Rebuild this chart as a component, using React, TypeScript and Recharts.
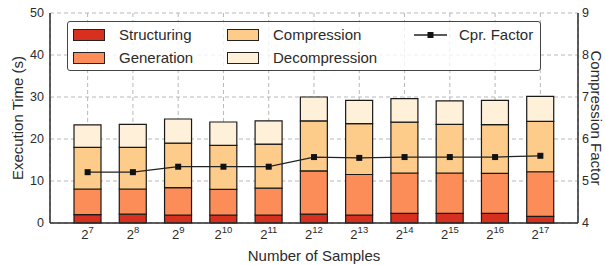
import { ComposedChart, Bar, Line, XAxis, YAxis, CartesianGrid, Legend } from "recharts"

const exponents = ["7", "8", "9", "10", "11", "12", "13", "14", "15", "16", "17"]
const structuring = [2.0, 2.1, 1.9, 1.9, 1.9, 2.1, 1.9, 2.3, 2.3, 2.3, 1.6]
const generation = [6.1, 6.0, 6.5, 6.1, 6.4, 10.3, 9.65, 9.6, 9.6, 9.5, 10.6]
const compression = [9.9, 9.9, 10.6, 10.5, 10.5, 11.9, 12.1, 12.1, 11.6, 11.6, 12.0]
const decompression = [5.35, 5.5, 5.76, 5.55, 5.5, 5.7, 5.55, 5.6, 5.6, 5.8, 5.95]
const cprFactor = [5.21, 5.21, 5.34, 5.34, 5.34, 5.57, 5.55, 5.57, 5.57, 5.57, 5.6]

const leftTicks = [0, 10, 20, 30, 40, 50]
const rightTicks = [4, 5, 6, 7, 8, 9]

const COLORS = {
  structuring: "#d7301f",
  generation: "#fc8d59",
  compression: "#fdcc8a",
  decompression: "#fef0d9",
}

const FONT = "'Liberation Sans', Arial, sans-serif"
const INK = "#2b2b2b"

const data = exponents.map((e, i) => ({
  exp: e,
  structuring: structuring[i],
  generation: generation[i],
  compression: compression[i],
  decompression: decompression[i],
  cpr: cprFactor[i],
}))

function PowerTick({ x, y, payload }: any) {
  return (
    <text x={x} y={y + 10} textAnchor="middle" fill={INK} fontFamily={FONT}>
      <tspan fontSize={13}>2</tspan>
      <tspan fontSize={9.5} dy={-6}>{payload.value}</tspan>
    </text>
  )
}

const barItems = [
  { key: "structuring", label: "Structuring", left: 5, top: 6 },
  { key: "generation", label: "Generation", left: 5, top: 29 },
  { key: "compression", label: "Compression", left: 159, top: 6 },
  { key: "decompression", label: "Decompression", left: 159, top: 29 },
]

function LegendBox() {
  return (
    <div
      style={{
        position: "relative",
        width: 474,
        height: 50,
        boxSizing: "border-box",
        border: "1px solid #444",
        borderRadius: 3,
        background: "rgba(255,255,255,0.8)",
        fontFamily: FONT,
        fontSize: 15,
        color: INK,
      }}
    >
      {barItems.map((it) => (
        <div key={it.key} style={{ position: "absolute", left: it.left, top: it.top, display: "flex", alignItems: "center", height: 13 }}>
          <div
            style={{
              width: 32,
              height: 12,
              boxSizing: "border-box",
              background: (COLORS as any)[it.key],
              border: "1px solid #222",
            }}
          />
          <span style={{ marginLeft: 14, lineHeight: "13px", whiteSpace: "nowrap" }}>{it.label}</span>
        </div>
      ))}
      <div style={{ position: "absolute", left: 346, top: 6, display: "flex", alignItems: "center", height: 13 }}>
        <svg width={33} height={12}>
          <line x1={0} y1={6} x2={33} y2={6} stroke="#222" strokeWidth={1.3} />
          <rect x={13.5} y={3} width={6} height={6} fill="#111" />
        </svg>
        <span style={{ marginLeft: 12, lineHeight: "13px", whiteSpace: "nowrap" }}>Cpr. Factor</span>
      </div>
    </div>
  )
}

function SquareDot({ cx, cy }: any) {
  if (cx == null || cy == null) return null
  return <rect x={cx - 3} y={cy - 3} width={6} height={6} fill="#111" />
}

export default function App() {
  return (
    <div style={{ position: "absolute", left: 0, top: 0, width: 605, height: 265, background: "#fff" }}>
      <ComposedChart
        width={605}
        height={265}
        data={data}
        margin={{ top: 13, right: 0, bottom: 0, left: 0 }}
        barCategoryGap={0}
      >
        <CartesianGrid yAxisId="left" stroke="#b0b0b0" strokeDasharray="4 3" strokeWidth={0.9} />
        <XAxis
          dataKey="exp"
          height={42}
          padding={{ left: 15, right: 15 }}
          tick={<PowerTick />}
          tickLine={false}
          tickSize={0}
          tickMargin={6}
          axisLine={{ stroke: INK, strokeWidth: 1.5 }}
          interval={0}
          label={{
            value: "Number of Samples",
            position: "insideBottom",
            offset: 4,
            fill: INK,
            fontSize: 15,
            fontFamily: FONT,
          }}
        />
        <XAxis
          xAxisId="top"
          orientation="top"
          dataKey="exp"
          height={0}
          tick={false}
          tickLine={false}
          axisLine={{ stroke: INK, strokeWidth: 1.5 }}
        />
        <YAxis
          yAxisId="left"
          width={50}
          domain={[0, 50]}
          ticks={leftTicks}
          tickLine={false}
          tickSize={0}
          tickMargin={6}
          axisLine={{ stroke: INK, strokeWidth: 1.5 }}
          tick={{ fill: INK, fontSize: 12.5, fontFamily: FONT }}
          label={{
            value: "Execution Time (s)",
            angle: -90,
            position: "center",
            dx: -7,
            fill: INK,
            fontSize: 15,
            fontFamily: FONT,
          }}
        />
        <YAxis
          yAxisId="right"
          orientation="right"
          width={27}
          domain={[4, 9]}
          ticks={rightTicks}
          tickLine={false}
          tickSize={0}
          tickMargin={4}
          axisLine={{ stroke: INK, strokeWidth: 1.5 }}
          tick={{ fill: INK, fontSize: 12.5, fontFamily: FONT }}
          label={{
            value: "Compression Factor",
            angle: 90,
            position: "center",
            dx: 5,
            fill: INK,
            fontSize: 15,
            fontFamily: FONT,
          }}
        />
        <Legend
          verticalAlign="middle"
          align="center"
          layout="horizontal"
          wrapperStyle={{ left: 67, top: 21, width: 474, height: 50 }}
          content={() => <LegendBox />}
        />
        {(["structuring", "generation", "compression", "decompression"] as const).map((k) => (
          <Bar
            key={k}
            yAxisId="left"
            dataKey={k}
            stackId="t"
            barSize={27}
            fill={COLORS[k]}
            stroke="#1a1a1a"
            strokeWidth={1.2}
            isAnimationActive={false}
          />
        ))}
        <Line
          yAxisId="right"
          dataKey="cpr"
          stroke="#222"
          strokeWidth={1.3}
          dot={<SquareDot />}
          activeDot={false}
          isAnimationActive={false}
        />
      </ComposedChart>
    </div>
  )
}
